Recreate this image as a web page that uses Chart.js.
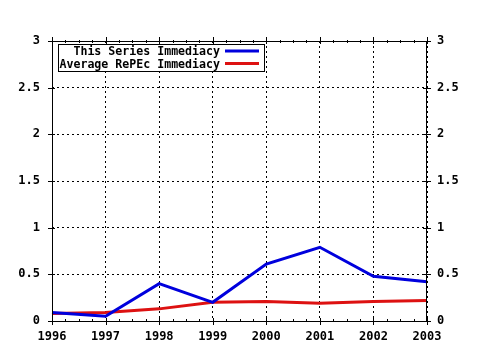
<!DOCTYPE html>
<html>
<head>
<meta charset="utf-8">
<script src="https://cdn.jsdelivr.net/npm/chart.js@4/dist/chart.umd.min.js"></script>
<style>
  html, body { margin: 0; padding: 0; background: #fff; }
  #wrap { width: 480px; height: 350px; }
</style>
</head>
<body>
<div id="wrap"><canvas id="myChart" width="480" height="350"></canvas></div>
<script>
const years = ["1996", "1997", "1998", "1999", "2000", "2001", "2002", "2003"];
const seriesImmediacy = [0.09, 0.05, 0.40, 0.20, 0.61, 0.79, 0.48, 0.42];
const repecImmediacy = [0.08, 0.09, 0.13, 0.20, 0.21, 0.19, 0.21, 0.22];
const seriesNames = ["This Series Immediacy", "Average RePEc Immediacy"];
const yTicks = [0, 0.5, 1, 1.5, 2, 2.5, 3];

const font = { family: "'DejaVu Sans Mono', monospace", size: 12, weight: "bold" };

// frame, tick marks and the boxed legend
const framePlugin = {
  id: "frame",
  afterDatasetsDraw(chart) {
    const c = chart.ctx;
    const a = chart.chartArea;
    const x = chart.scales.x;
    const y = chart.scales.y;
    c.save();
    c.strokeStyle = "#000";
    c.lineWidth = 1;
    c.strokeRect(a.left + 0.5, a.top + 0.5, a.right - a.left - 1, a.bottom - a.top);
    c.beginPath();
    for (let i = 0; i < years.length; i++) {
      const px = Math.round(x.getPixelForValue(i)) + 0.5;
      c.moveTo(px, a.bottom - 3); c.lineTo(px, a.bottom + 4);
      c.moveTo(px, a.top - 4); c.lineTo(px, a.top + 3);
      if (i < years.length - 1) {
        for (let k = 1; k < 4; k++) {
          const mx = Math.round(x.getPixelForValue(i + k / 4)) + 0.5;
          c.moveTo(mx, a.bottom - 2); c.lineTo(mx, a.bottom + 1);
          c.moveTo(mx, a.top - 1); c.lineTo(mx, a.top + 2);
        }
      }
    }
    yTicks.forEach(v => {
      const py = Math.round(y.getPixelForValue(v)) + 0.5;
      c.moveTo(a.left - 4, py); c.lineTo(a.left + 3, py);
      c.moveTo(a.right - 4, py); c.lineTo(a.right + 4, py);
    });
    c.stroke();

    // legend box
    const bx = 58, by = 44, bw = 206, bh = 27;
    c.fillStyle = "#fff";
    c.fillRect(bx, by, bw, bh);
    c.strokeRect(bx + 0.5, by + 0.5, bw, bh);
    c.font = "bold 11.6px 'DejaVu Sans Mono', monospace";
    c.textAlign = "right";
    c.textBaseline = "middle";
    chart.data.datasets.forEach((ds, i) => {
      const ly = 51 + i * 12.5;
      c.fillStyle = "#000";
      c.fillText(ds.label, 220, ly + 1);
      c.strokeStyle = ds.borderColor;
      c.lineWidth = 3;
      c.beginPath();
      c.moveTo(225, ly); c.lineTo(259, ly);
      c.stroke();
    });
    c.restore();
  }
};

const data = {
  labels: years,
  datasets: [
    {
      label: seriesNames[0],
      data: seriesImmediacy,
      borderColor: "#0000dd",
      borderWidth: 3,
      pointRadius: 0,
      tension: 0,
      fill: false
    },
    {
      label: seriesNames[1],
      data: repecImmediacy,
      borderColor: "#dd1111",
      borderWidth: 3,
      pointRadius: 0,
      tension: 0,
      fill: false
    }
  ]
};

const config = {
  type: "line",
  data: data,
  plugins: [framePlugin],
  options: {
    responsive: false,
    animation: false,
    layout: { padding: { top: 41, left: 0, right: 0, bottom: 0 } },
    plugins: { legend: { display: false }, tooltip: { enabled: false } },
    scales: {
      x: {
        offset: false,
        afterFit: s => { s.height = 29; },
        grid: { color: "#000", lineWidth: 1, drawTicks: false },
        border: { display: false, dash: [2, 3] },
        ticks: { color: "#000", font: font, padding: 9, maxRotation: 0, autoSkip: false }
      },
      y: {
        min: 0,
        max: 3,
        afterFit: s => { s.width = 52; },
        grid: { color: "#000", lineWidth: 1, drawTicks: false },
        border: { display: false, dash: [2, 3] },
        ticks: { color: "#000", font: font, padding: 12, stepSize: 0.5, callback: v => String(v) }
      },
      y2: {
        position: "right",
        min: 0,
        max: 3,
        afterFit: s => { s.width = 53; },
        grid: { display: false, drawTicks: false },
        border: { display: false },
        ticks: { color: "#000", font: font, padding: 10, stepSize: 0.5, callback: v => String(v) }
      }
    }
  }
};

const myChart = new Chart(document.getElementById("myChart").getContext("2d"), config);
</script>
</body>
</html>
